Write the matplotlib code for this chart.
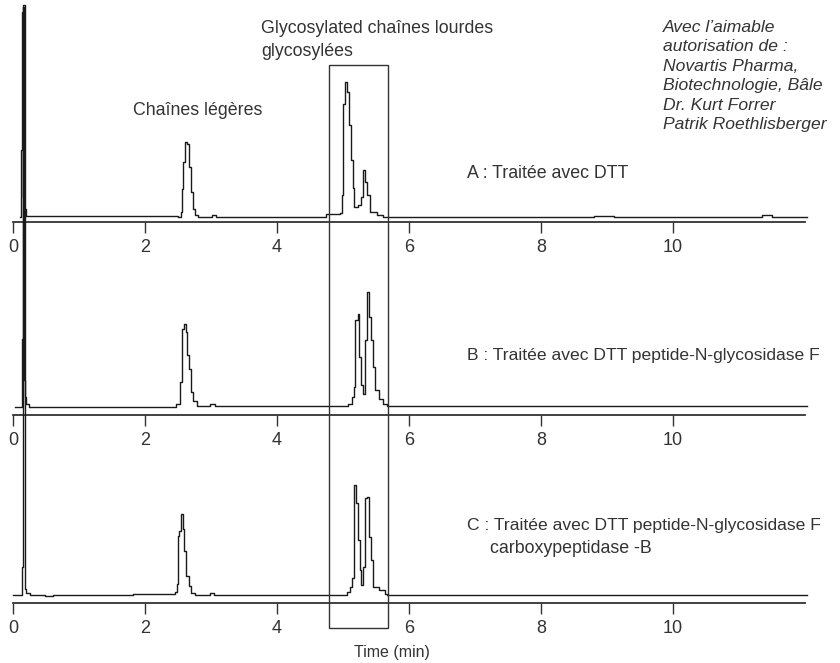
import matplotlib as mpl
mpl.use('Agg')
import matplotlib.pyplot as plt
from matplotlib.patches import Rectangle
from matplotlib import transforms

# Arial-like sans, closest installed match to the original lettering
plt.rcParams['font.family'] = ['Liberation Sans', 'DejaVu Sans']

W, H = 840, 663

# retention times (min) and detector signal
time_a = [0.10, 0.12, 0.13, 0.145, 0.16, 0.20, 2.50, 2.55, 2.56, 2.58, 2.60, 2.63, 2.66,
          2.69, 2.72, 2.76, 2.80, 3.02, 3.08, 4.75, 4.96, 4.98, 5.005, 5.035, 5.065,
          5.095, 5.12, 5.145, 5.17, 5.23, 5.27, 5.31, 5.34, 5.37, 5.41, 5.51, 5.60,
          8.80, 9.10, 11.35, 11.50, 12.03]
signal_a = [0, 67, 205, 20, 8, 1, 0, 5, 28, 55, 75, 73, 50,
            25, 8, 2, 0, 2, 0, 3, 4, 22, 113, 135, 125,
            92, 57, 29, 10, 12, 20, 47, 35, 22, 5, 2, 0,
            1, 0, 2, 0, 0]

time_b = [0.03, 0.14, 0.15, 0.167, 0.18, 0.20, 0.25, 2.20, 2.47, 2.53, 2.56, 2.59, 2.62,
          2.64, 2.67, 2.70, 2.73, 2.79, 2.99, 3.06, 5.08, 5.13, 5.17, 5.18, 5.22,
          5.25, 5.27, 5.31, 5.33, 5.36, 5.39, 5.42, 5.45, 5.48, 5.54, 5.61, 5.66,
          7.40, 12.03]
signal_b = [0, 68, 400, 27, 10, 3, 0, 0, 3, 25, 78, 83, 75,
            52, 38, 15, 6, 1.5, 3, 1.5, 3, 10, 20, 87, 93,
            50, 22, 13, 67, 115, 90, 67, 40, 17, 8, 3, 1.5,
            1, 1]

time_c = [0.0, 0.14, 0.156, 0.18, 0.20, 0.26, 0.48, 0.61, 1.82, 2.45, 2.48, 2.50, 2.52,
          2.54, 2.57, 2.59, 2.62, 2.66, 2.69, 2.76, 2.99, 3.04, 5.03, 5.06, 5.11,
          5.14, 5.16, 5.18, 5.20, 5.23, 5.26, 5.28, 5.31, 5.33, 5.37, 5.39, 5.42,
          5.46, 5.54, 5.64, 5.66, 12.03]
signal_c = [0, 28, 590, 6, 2, 0, -1, 0, 1.5, 3, 11, 59, 64,
            81, 66, 44, 19, 9, 2, 0, 2, 0, 0, 3, 8,
            17, 110, 110, 92, 55, 25, 10, 28, 97, 98, 58, 35,
            8, 5, 1, 0, 0]

traces = [(time_a, signal_a), (time_b, signal_b), (time_c, signal_c)]
xticks = [0, 2, 4, 6, 8, 10]

# glycosylated heavy-chain window (min)
box_start, box_end = 4.79, 5.68

fig = plt.figure(figsize=(W / 100, H / 100), dpi=100)

# pixel rows of each x axis line and the baseline gap above it
axis_rows = [222, 415, 603]
offsets = [5, 8, 8]
panel_h = 180
axes = []
for (t, s), row, off in zip(traces, axis_rows, offsets):
    ax = fig.add_axes([13 / W, (H - row) / H, 792 / W, panel_h / H])
    ax.patch.set_alpha(0)
    ax.plot(t, s, drawstyle='steps-post', color='#1a1a1a', lw=1.0, clip_on=False)
    ax.set_xlim(0, 12)
    ax.set_ylim(-off, panel_h - off)
    for side in ['top', 'right', 'left']:
        ax.spines[side].set_visible(False)
    ax.spines['bottom'].set_color('#333333')
    ax.spines['bottom'].set_linewidth(1.3)
    ax.set_yticks([])
    ax.set_xticks(xticks)
    ax.set_xticklabels([str(v) for v in xticks])
    ax.tick_params(axis='x', direction='out', length=8, width=1.0, pad=4,
                   labelsize=13, colors='#333333')
    axes.append(ax)

# box around the heavy-chain peaks, x in data units, y in figure units
trans = transforms.blended_transform_factory(axes[0].transData, fig.transFigure)
fig.patches.append(Rectangle((box_start, (H - 628) / H), box_end - box_start, (628 - 65) / H,
                             transform=trans, fill=False, ec='#333333', lw=1.0))


def put(x, y, s, **kw):
    fig.text(x / W, 1 - y / H, s, color='#333333', va='baseline', **kw)


put(261, 33, 'Glycosylated chaînes lourdes', fontsize=12.8)
put(261, 56, 'glycosylées', fontsize=12.8)
put(133, 115, 'Chaînes légères', fontsize=12.8)
put(467, 178, 'A : Traitée avec DTT', fontsize=12.8)
put(467, 360, 'B : Traitée avec DTT peptide-N-glycosidase F', fontsize=12.6)
put(467, 530, 'C : Traitée avec DTT peptide-N-glycosidase F', fontsize=12.6)
put(490, 553, 'carboxypeptidase -B', fontsize=12.8)

credits = ['Avec l\u2019aimable', 'autorisation de :', 'Novartis Pharma,',
           'Biotechnologie, Bâle', 'Dr. Kurt Forrer', 'Patrik Roethlisberger']
for i, line in enumerate(credits):
    put(663, 32 + i * 19.4, line, fontsize=12.6, style='italic')

fig.text(392 / W, 1 - 657 / H, 'Time (min)', ha='center', va='baseline',
         fontsize=11.5, color='#333333')

fig.savefig('out.png', dpi=100)
